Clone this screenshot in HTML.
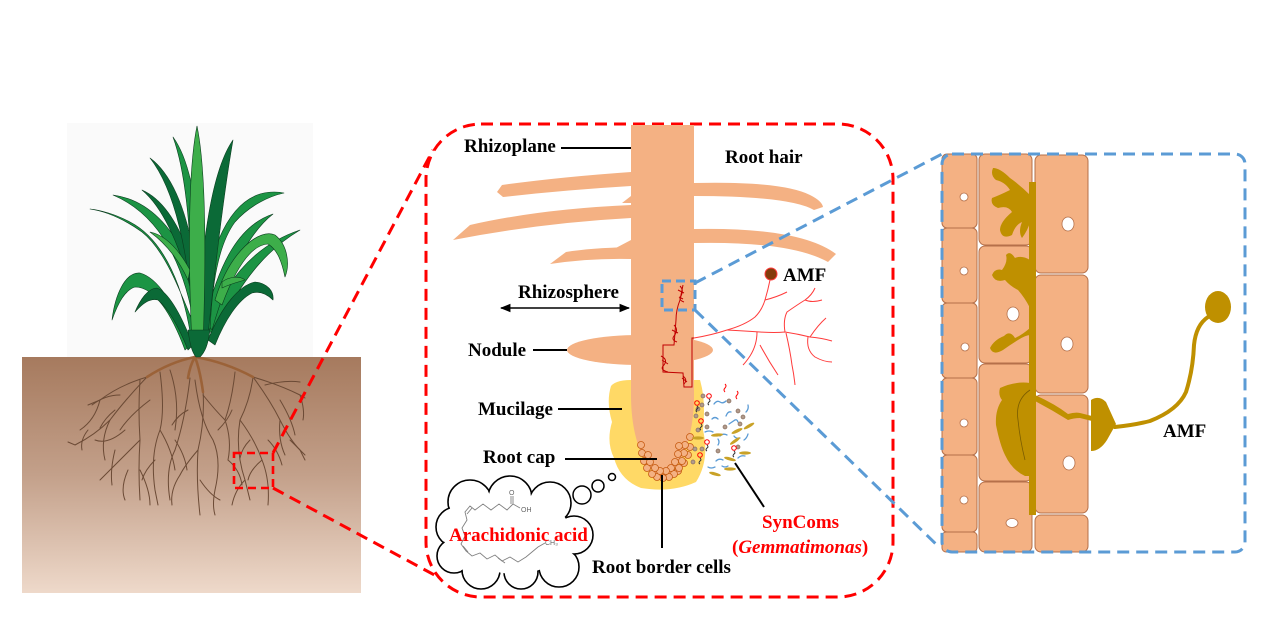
<!DOCTYPE html>
<html><head><meta charset="utf-8"><style>
html,body{margin:0;padding:0;background:#fff;}
svg{display:block;}
text{font-family:"Liberation Serif","Times New Roman",serif;font-weight:bold;}
</style></head><body>
<svg width="1269" height="633" viewBox="0 0 1269 633" xmlns="http://www.w3.org/2000/svg">
<defs>
<linearGradient id="soil" x1="0" y1="0" x2="0" y2="1">
<stop offset="0" stop-color="#a67a5e"/>
<stop offset="0.5" stop-color="#c3a08a"/>
<stop offset="1" stop-color="#eed9ca"/>
</linearGradient>
<marker id="ah" viewBox="0 0 10 10" refX="9" refY="5" markerWidth="7" markerHeight="7" orient="auto-start-reverse"><path d="M0,1 L10,5 L0,9 Z" fill="#000"/></marker>
</defs>
<rect width="1269" height="633" fill="#fff"/>

<!-- ===== Plant panel ===== -->
<rect x="67" y="123" width="246" height="234" fill="#fafafa"/>
<rect x="22" y="357" width="339" height="236" fill="url(#soil)"/>

<!-- roots -->
<g fill="none" stroke="#6b4a35" stroke-width="1" stroke-linecap="round">
<path d="M147,377 Q120,385 100,400 L88,405"/>
<path d="M147,377 Q125,400 110,420 Q95,435 75,445 L68,442"/>
<path d="M110,420 Q100,440 105,460"/>
<path d="M140,380 Q138,410 140,440 Q138,470 140,500"/>
<path d="M140,440 Q125,455 110,470 L100,480"/>
<path d="M160,372 Q165,410 160,430 Q150,455 155,490 L158,505"/>
<path d="M140,470 Q150,490 150,505"/>
<path d="M125,430 Q108,445 95,440"/>
<path d="M170,370 Q180,400 175,430"/>
<path d="M190,378 Q185,420 175,450 Q165,470 170,500"/>
<path d="M203,390 Q205,420 198,450 Q196,480 200,515"/>
<path d="M195,380 Q200,420 213,440 Q222,460 215,490"/>
<path d="M198,450 Q185,465 180,475"/>
<path d="M200,480 Q210,495 220,500"/>
<path d="M203,395 Q215,410 225,420 Q232,440 228,460"/>
<path d="M253,377 Q280,385 300,395 L305,398"/>
<path d="M253,377 Q250,400 240,420 Q235,450 245,480 L250,500"/>
<path d="M235,372 Q232,400 225,420"/>
<path d="M253,377 Q270,400 280,420 Q290,440 300,450 L305,460"/>
<path d="M240,420 Q255,440 262,460 Q270,480 268,505"/>
<path d="M280,420 Q278,440 285,455"/>
<path d="M265,385 Q285,380 300,382"/>
<path d="M280,400 Q292,420 295,435"/>
<path d="M245,480 Q235,490 232,505"/>
<path d="M262,460 Q250,470 248,480"/>
<path d="M290,440 Q300,450 305,455"/>
<path d="M120,395 Q105,395 92,405"/>
<path d="M100,400 Q95,420 80,430"/>
<path d="M115,450 Q110,470 112,485"/>
<path d="M160,430 Q172,450 175,470"/>
<path d="M215,490 Q212,505 215,515"/>
<path d="M180,475 Q170,490 172,505"/>
<path d="M128,470 Q120,488 125,500"/>
<path d="M150,400 Q130,415 120,430"/>
<path d="M228,460 Q240,470 242,485"/>
<path d="M300,395 Q305,410 303,420"/>
<path d="M88,430 Q80,440 82,450"/>
<path d="M155,460 Q145,470 142,480"/>
<path d="M188,410 Q178,415 172,425"/>
<path d="M218,430 Q228,420 232,410"/>
<path d="M268,440 Q278,450 282,465"/>
<path d="M250,440 Q242,448 240,458"/>
<path d="M175,440 Q185,455 187,470"/>
<path d="M115,410 Q105,418 100,428"/>
</g>
<g fill="none" stroke="#9b6238" stroke-width="2.6" stroke-linecap="round">
<path d="M195,357 Q170,362 147,377"/>
<path d="M195,357 Q225,362 253,377"/>
<path d="M195,357 Q200,370 203,392"/>
<path d="M195,357 Q190,365 188,378"/>
</g>

<!-- leaves -->
<g stroke="#0a3d1e" stroke-width="0.6" stroke-linejoin="round">
<path fill="#1c9444" d="M192,345 C185,290 165,240 130,222 C115,214 100,210 90,209 C110,212 128,222 142,232 C165,250 180,290 200,340 Z"/>
<path fill="#1c9444" d="M195,330 C185,265 160,215 113,195 C150,200 175,230 192,270 C198,290 202,310 203,330 Z"/>
<path fill="#1c9444" d="M190,345 C175,305 158,278 140,273 C125,272 115,295 112,320 C118,303 125,290 135,287 C155,287 172,315 185,350 Z"/>
<path fill="#0b6a37" d="M193,345 C180,312 168,292 157,288 C148,288 140,300 135,312 C143,303 150,298 158,300 C170,310 180,330 188,350 Z"/>
<path fill="#0b6a37" d="M193,300 C180,240 160,205 142,190 C165,200 185,230 200,290 Z"/>
<path fill="#0b6a37" d="M194,330 C188,250 175,190 150,158 C180,180 196,240 202,320 Z"/>
<path fill="#1c9444" d="M193,300 C190,220 185,170 173,137 C190,160 200,210 202,290 Z"/>
<path fill="#3dae4a" d="M150,232 C165,235 178,248 190,270 L188,280 C178,258 165,243 150,232 Z"/>
<path fill="#1c9444" d="M207,330 C225,280 255,245 300,230 C275,245 245,270 215,335 Z"/>
<path fill="#0b6a37" d="M208,340 C222,305 240,285 255,282 C268,283 274,292 273,300 C266,293 259,291 252,293 C238,300 225,320 215,345 Z"/>
<path fill="#1c9444" d="M205,320 C220,260 240,225 273,214 C255,228 232,260 212,330 Z"/>
<path fill="#1c9444" d="M203,320 C205,260 225,205 260,194 C270,191 280,192 284,193 C270,196 250,205 235,222 C218,245 212,285 210,330 Z"/>
<path fill="#3dae4a" d="M215,300 C230,250 260,228 275,235 C288,245 290,265 285,277 C282,263 278,250 268,244 C250,245 235,270 222,305 Z"/>
<path fill="#3dae4a" d="M222,282 C230,276 240,276 245,280 C238,282 230,284 222,288 Z"/>
<path fill="#0b6a37" d="M197,330 C202,240 212,170 233,140 C226,180 218,240 208,335 Z"/>
<path fill="#3dae4a" d="M192,345 C188,260 188,170 197,126 C206,170 206,260 203,345 Z"/>
<path fill="#0b6a37" d="M188,330 C190,345 192,352 196,357 L200,357 C205,352 208,345 210,330 Z"/>
</g>

<!-- red dashed connectors -->
<g fill="none" stroke="#ff0000" stroke-width="3" stroke-dasharray="12,7">
<rect x="234" y="453" width="39" height="35" stroke-dasharray="8,5" stroke-width="2.6"/>
<path d="M273,453 L433,150"/>
<path d="M273,488 L440,578"/>
<rect x="426" y="124" width="467" height="473" rx="55" ry="55"/>
</g>

<!-- ===== Middle panel ===== -->
<path fill="#ffd966" d="M611,386 Q616,380 631,380 L700,380 Q706,400 703,430 Q710,460 696,482 Q672,493 641,488 Q620,480 614,458 Q606,442 612,422 Q606,402 611,386 Z"/>
<ellipse cx="640" cy="350" rx="73" ry="15" fill="#f4b183"/>
<g fill="#f4b183">
<path d="M631,172 Q560,177 502,185 L497,192 L503,197 Q565,190 631,186 Z"/>
<path d="M631,205 Q540,209 470,225 L453,240 Q540,223 631,218 Z"/>
<path d="M631,247 Q590,248 566,252 L550,264 Q590,258 631,259 Z"/>
<path d="M694,183 Q782,181 810,195 Q822,201 823,207 L814,210 Q790,196 694,196 Z"/>
<path d="M694,229 Q800,227 836,254 L828,262 Q790,241 694,243 Z"/>
<path d="M631,196 L622,203 L631,203 Z"/>
<path d="M631,240 L612,250 L631,248 Z"/>
</g>
<path fill="#f4b183" d="M631,125 H694 V395 C694,440 680,470 662,478 C645,470 631,440 631,395 Z"/>
<g fill="#f4b183" stroke="#c55a11" stroke-width="0.8">
<circle cx="690" cy="437" r="3.5"/><circle cx="690" cy="447" r="3.5"/><circle cx="688" cy="455" r="3.5"/><circle cx="684" cy="463" r="3.5"/><circle cx="678" cy="471" r="3.5"/>
<circle cx="685" cy="445" r="3.5"/><circle cx="684" cy="453" r="3.5"/><circle cx="682" cy="461" r="3.5"/><circle cx="679" cy="468" r="3.5"/><circle cx="674" cy="474" r="3.5"/><circle cx="669" cy="477" r="3.5"/><circle cx="663" cy="478" r="3.5"/><circle cx="657" cy="477" r="3.5"/><circle cx="652" cy="474" r="3.5"/><circle cx="647" cy="468" r="3.5"/><circle cx="644" cy="461" r="3.5"/><circle cx="642" cy="453" r="3.5"/><circle cx="641" cy="445" r="3.5"/>
<circle cx="679" cy="446" r="3.5"/><circle cx="678" cy="454" r="3.5"/><circle cx="675" cy="462" r="3.5"/><circle cx="671" cy="468" r="3.5"/><circle cx="666" cy="471" r="3.5"/><circle cx="660" cy="471" r="3.5"/><circle cx="655" cy="468" r="3.5"/><circle cx="650" cy="462" r="3.5"/><circle cx="648" cy="455" r="3.5"/>
</g>
<g fill="none" stroke="#c00000" stroke-width="1">
<path d="M683,285 L680,300 Q676,310 676,320 L674,345 L663,345 L663,372 L683,373 L684,387 L692,387 L692,338 L694,338"/>
<path d="M680,286 Q684,290 681,296 Q678,300 684,302 M678,290 L684,293 M679,297 L683,299"/>
<path d="M674,325 Q679,330 674,336 Q671,340 677,342 M672,330 L678,333"/>
<path d="M661,356 Q669,360 663,366 Q660,370 668,372 M662,360 L668,364"/>
<path d="M683,376 Q688,380 684,384 M682,378 L687,382"/>
</g>
<g fill="none" stroke="#ff3b3b" stroke-width="1">
<path d="M694,338 Q712,335 727,330 Q745,325 755,317 Q762,310 765,300 Q768,290 770,280"/>
<path d="M765,300 Q777,297 787,292"/>
<path d="M727,330 Q745,331 760,332 Q775,333 785,332 Q798,334 810,337 Q822,338 832,341"/>
<path d="M757,332 Q757,345 750,356 Q746,362 743,365"/>
<path d="M760,345 Q768,360 778,375"/>
<path d="M785,332 Q783,320 787,312 Q797,305 805,300 Q812,295 815,288"/>
<path d="M805,300 Q812,303 822,300"/>
<path d="M808,337 Q806,350 815,357 Q824,362 832,362"/>
<path d="M786,333 Q790,350 792,365 Q794,375 795,385"/>
<path d="M810,337 Q818,325 826,318"/>
</g>
<circle cx="771" cy="274" r="6" fill="#843c0c" stroke="#ff3b3b" stroke-width="1"/>

<g fill="#b09a8c" stroke="#8a7060" stroke-width="0.7">
<circle cx="703" cy="396" r="2"/><circle cx="702" cy="405" r="2"/><circle cx="698" cy="409" r="2"/><circle cx="707" cy="414" r="2"/><circle cx="696" cy="416" r="2"/><circle cx="698" cy="430" r="2"/><circle cx="707" cy="427" r="2"/><circle cx="695" cy="449" r="2"/><circle cx="702" cy="449" r="2"/><circle cx="693" cy="462" r="2"/><circle cx="729" cy="401" r="2"/><circle cx="738" cy="411" r="2"/><circle cx="743" cy="417" r="2"/><circle cx="725" cy="427" r="2"/><circle cx="740" cy="424" r="2"/><circle cx="718" cy="451" r="2"/><circle cx="738" cy="447" r="2"/>
</g>
<g fill="none" stroke="#5b9bd5" stroke-width="1.3" stroke-linecap="round">
<path d="M714,404 q3,-4 6,-2 q3,2 6,-1"/><path d="M726,416 q2,-5 5,-4"/><path d="M746,412 q3,-3 2,-7"/><path d="M712,419 q3,-3 6,0"/><path d="M729,424 q3,-2 6,-4 q2,-1 3,2"/><path d="M705,432 q4,-2 8,0"/><path d="M720,436 q3,-3 7,-1"/><path d="M744,440 q3,-2 4,-6"/><path d="M716,461 q3,-3 7,-1"/><path d="M708,467 q3,2 7,0"/><path d="M738,458 q3,-3 7,-2"/><path d="M722,466 q3,2 6,0"/><path d="M734,436 q2,3 6,2"/><path d="M718,445 q2,-3 0,-6"/>
</g>
<g fill="#c9a227">
<ellipse cx="698" cy="438" rx="6" ry="1.6"/><ellipse cx="717" cy="435" rx="6" ry="1.6" transform="rotate(-5 717 435)"/><ellipse cx="737" cy="431" rx="6" ry="1.6" transform="rotate(-25 737 431)"/><ellipse cx="749" cy="426" rx="6" ry="1.6" transform="rotate(-30 749 426)"/><ellipse cx="735" cy="441" rx="6" ry="1.6" transform="rotate(-35 735 441)"/><ellipse cx="745" cy="453" rx="6" ry="1.6"/><ellipse cx="730" cy="459" rx="6" ry="1.6" transform="rotate(15 730 459)"/><ellipse cx="730" cy="469" rx="6" ry="1.6"/><ellipse cx="715" cy="474" rx="6" ry="1.6" transform="rotate(15 715 474)"/>
</g>
<g fill="none" stroke-width="1">
<g stroke="#ff0000"><circle cx="709" cy="396" r="2.3"/><circle cx="697" cy="403" r="2.3"/><circle cx="701" cy="421" r="2.3"/><circle cx="707" cy="442" r="2.3"/><circle cx="700" cy="455" r="2.3"/><circle cx="734" cy="448" r="2.3"/>
<path d="M725,384 q2,2 0,4 q-2,2 0,4"/><path d="M737,391 q2,2 0,4 q-2,2 0,4"/></g>
<g stroke="#333"><path d="M709,399 q2,2 0,3 q-2,2 0,3"/><path d="M697,406 q2,2 0,3 q-2,2 0,3"/><path d="M701,424 q2,2 0,3 q-2,2 0,3"/><path d="M707,445 q2,2 0,3 q-2,2 0,3"/><path d="M700,458 q2,2 0,3 q-2,2 0,3"/><path d="M734,451 q2,2 0,3 q-2,2 0,3"/></g>
</g>

<!-- thought cloud -->
<g fill="#fff" stroke="#000" stroke-width="1.6">
<circle cx="470" cy="502" r="22"/><circle cx="510" cy="498" r="22"/><circle cx="550" cy="503" r="21"/><circle cx="456" cy="527" r="20"/><circle cx="454" cy="556" r="17"/><circle cx="481" cy="570" r="19"/><circle cx="521" cy="572" r="17"/><circle cx="559" cy="567" r="20"/><circle cx="574" cy="535" r="19"/>
</g>
<g fill="#fff">
<circle cx="470" cy="502" r="21"/><circle cx="510" cy="498" r="21"/><circle cx="550" cy="503" r="20"/><circle cx="456" cy="527" r="19"/><circle cx="454" cy="556" r="16"/><circle cx="481" cy="570" r="18"/><circle cx="521" cy="572" r="16"/><circle cx="559" cy="567" r="19"/><circle cx="574" cy="535" r="18"/>
<ellipse cx="515" cy="534" rx="55" ry="40"/>
</g>
<g fill="#fff" stroke="#000" stroke-width="1.5">
<circle cx="582" cy="495" r="9"/><circle cx="598" cy="486" r="6"/><circle cx="612" cy="477" r="3.5"/>
</g>
<g fill="none" stroke="#808080" stroke-width="0.9">
<path d="M513,504 L507,510 L499,504 L491,510 L483,504 L475,510 L470,506 L465,512 L467,520 L462,528 L465,536 L461,544 L466,551 L472,556 L480,553 L487,559 L495,555 L502,561 L510,557 L518,562 L526,557 L532,552 L538,547 L545,543"/>
<path d="M472,508 L467,514"/><path d="M463,546 L468,552"/><path d="M498,558 L505,563"/>
<path d="M513,504 L513,496 M511,504 L511,496"/><path d="M513,504 L520,508"/>
</g>
<text x="509" y="495" font-size="7" fill="#666" style="font-family:'Liberation Sans',sans-serif;font-weight:normal">O</text>
<text x="521" y="512" font-size="7" fill="#666" style="font-family:'Liberation Sans',sans-serif;font-weight:normal">OH</text>
<text x="545" y="545" font-size="7" fill="#666" style="font-family:'Liberation Sans',sans-serif;font-weight:normal">CH₃</text>

<g stroke="#000" stroke-width="2" fill="none">
<path d="M561,148 H631"/>
<path d="M533,350 H567"/>
<path d="M558,409 H622"/>
<path d="M565,459 H657"/>
<path d="M662,475 V548"/>
<path d="M735,463 L764,507"/>
</g>
<path d="M501,308 H629" stroke="#000" stroke-width="1.5" marker-start="url(#ah)" marker-end="url(#ah)"/>

<g font-size="19" fill="#000">
<text x="464" y="152">Rhizoplane</text>
<text x="725" y="163">Root hair</text>
<text x="518" y="298">Rhizosphere</text>
<text x="783" y="281">AMF</text>
<text x="468" y="356">Nodule</text>
<text x="478" y="415">Mucilage</text>
<text x="483" y="463">Root cap</text>
<text x="592" y="573">Root border cells</text>
</g>
<g font-size="19" fill="#ff0000">
<text x="449" y="541">Arachidonic acid</text>
<text x="762" y="528">SynComs</text>
<text x="732" y="553">(<tspan font-style="italic">Gemmatimonas</tspan>)</text>
</g>

<!-- ===== Right panel ===== -->
<g fill="#f4b183" stroke="#b5704a" stroke-width="1">
<rect x="942" y="154" width="35" height="74" rx="5"/>
<rect x="942" y="228" width="35" height="75" rx="5"/>
<rect x="942" y="303" width="35" height="75" rx="5"/>
<rect x="942" y="378" width="35" height="77" rx="5"/>
<rect x="942" y="455" width="35" height="77" rx="5"/>
<rect x="942" y="532" width="35" height="20" rx="4"/>
<rect x="979" y="154" width="53" height="91" rx="6"/>
<rect x="979" y="246" width="53" height="117" rx="6"/>
<rect x="979" y="364" width="53" height="117" rx="6"/>
<rect x="979" y="482" width="53" height="70" rx="6"/>
<rect x="1035" y="155" width="53" height="118" rx="6"/>
<rect x="1035" y="275" width="53" height="118" rx="6"/>
<rect x="1035" y="395" width="53" height="118" rx="6"/>
<rect x="1035" y="515" width="53" height="37" rx="6"/>
</g>
<g fill="#fff" stroke="#b5704a" stroke-width="0.8">
<circle cx="964" cy="197" r="4"/><circle cx="964" cy="271" r="4"/><circle cx="965" cy="347" r="4"/><circle cx="964" cy="423" r="4"/><circle cx="964" cy="500" r="4"/>
<ellipse cx="1068" cy="224" rx="6" ry="7"/><ellipse cx="1067" cy="344" rx="6" ry="7"/><ellipse cx="1069" cy="463" rx="6" ry="7"/>
<ellipse cx="1013" cy="314" rx="6" ry="7"/><ellipse cx="1012" cy="523" rx="6" ry="4.5"/>
</g>
<g fill="#bf9000">
<rect x="1029" y="182" width="7" height="333"/>
<path d="M1030,195 Q1020,185 1010,178 Q1000,168 993,168 Q990,175 996,180 Q1005,182 1010,190 Q1000,195 992,198 Q990,205 998,208 Q1008,205 1012,212 Q1000,222 1000,230 Q1002,240 1012,235 Q1015,225 1022,222 Q1018,232 1022,238 Q1028,230 1030,222 Z"/>
<path d="M1030,260 Q1022,255 1015,258 Q1010,250 1006,255 Q1008,262 1002,270 Q995,268 992,275 Q995,283 1005,280 Q1010,286 1018,290 Q1025,298 1030,308 Z"/>
<path d="M1030,328 Q1022,335 1015,338 Q1010,330 1004,336 Q994,340 990,348 Q993,356 1003,350 Q1010,345 1018,340 Q1026,335 1030,335 Z"/>
<path d="M1030,383 Q1015,381 1000,388 Q998,395 1002,400 Q995,410 996,425 Q1000,445 1005,455 Q1012,470 1025,476 L1030,476 Z"/>
<path d="M1035,395 Q1055,404 1068,414 Q1075,412 1080,413 L1092,416 L1092,421 L1080,418 Q1074,418 1068,420 Q1052,410 1035,401 Z"/>
<path d="M1091,400 Q1099,395 1106,402 L1116,424 L1107,440 Q1100,451 1091,451 Z"/>
<ellipse cx="1218" cy="307" rx="13" ry="16"/>
</g>
<path d="M1030,390 Q1015,400 1018,420 Q1020,440 1025,460" fill="none" stroke="#7a5c00" stroke-width="0.8"/>
<path d="M1115,427 Q1135,425 1150,421 Q1178,410 1186,392 Q1193,370 1194,345 Q1196,325 1208,317" fill="none" stroke="#bf9000" stroke-width="4" stroke-linecap="round"/>
<text x="1163" y="437" font-size="19" fill="#000">AMF</text>

<g fill="none" stroke="#5b9bd5" stroke-width="3" stroke-dasharray="12,7">
<rect x="662" y="281" width="33" height="29" stroke-dasharray="9,5"/>
<path d="M695,283 L942,154"/>
<path d="M695,310 L938,546"/>
<rect x="942" y="154" width="303" height="398" rx="10" ry="10"/>
</g>
</svg>
</body></html>
